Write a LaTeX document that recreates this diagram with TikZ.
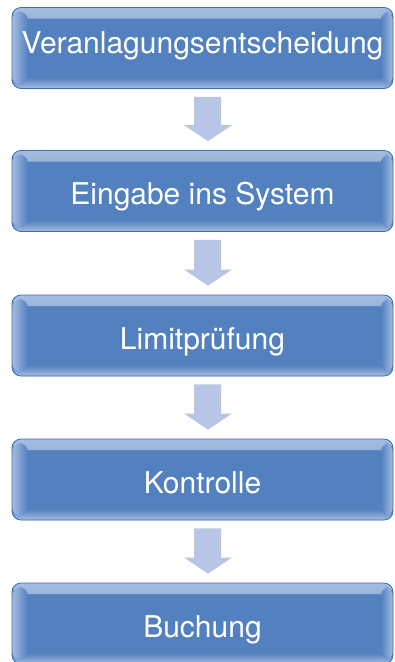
\documentclass[tikz,border=0pt]{standalone}
\usepackage{fontspec}
\setmainfont{TeX Gyre Heros}
\usetikzlibrary{calc}
\definecolor{boxblue}{RGB}{83,129,192}
\definecolor{boxlight}{RGB}{165,188,223}
\definecolor{boxedge}{RGB}{60,110,180}
\definecolor{arrowblue}{RGB}{184,197,230}
\tikzset{
  stepbox/.style={rounded corners=9pt, minimum width=381pt, minimum height=81pt,
    inner sep=0pt, fill=boxblue, draw=boxedge, line width=0.8pt, text=white,
    font=\fontsize{30}{36}\selectfont, text height=27.5pt, text depth=0pt,
    path picture={
      \shade[top color=boxlight, bottom color=boxblue] ([yshift=-11pt]path picture bounding box.north west) rectangle (path picture bounding box.north east);
      \shade[bottom color=boxlight, top color=boxblue] (path picture bounding box.south west) rectangle ([yshift=11pt]path picture bounding box.south east);
      \shade[left color=boxlight, right color=boxblue] ([yshift=4pt]path picture bounding box.south west) rectangle ([xshift=16pt,yshift=-4pt]path picture bounding box.north west);
      \shade[right color=boxlight, left color=boxblue] ([xshift=-12pt,yshift=4pt]path picture bounding box.south east) rectangle ([yshift=-4pt]path picture bounding box.north east);
    }},
  flowarrow/.style={fill=arrowblue, draw=none}
}
\begin{document}
\begin{tikzpicture}[x=1pt,y=1pt]
\useasboundingbox (0,0) rectangle (395,-662);
\node[stepbox, text height=21.5pt, text depth=10pt] (b1) at (202.5,-48) {Veranlagungsentscheidung};
\node[stepbox] (b2) at (202.5,-191) {Eingabe ins System};
\node[stepbox] (b3) at (202.5,-335.5) {Limitprüfung};
\node[stepbox] (b4) at (202.5,-479.5) {Kontrolle};
\node[stepbox] (b5) at (202.5,-623.5) {Buchung};
\foreach \a/\b in {b1/b2,b2/b3,b3/b4,b4/b5}{
  \fill[flowarrow] ($(\a.south)+(-8.5,-8)$) -- ($(\a.south)+(18.5,-8)$)
    -- ($(\b.north)+(18.5,25)$) -- ($(\b.north)+(29.5,25)$)
    -- ($(\b.north)+(5.5,9)$) -- ($(\b.north)+(-18.5,25)$)
    -- ($(\b.north)+(-8.5,25)$) -- cycle;
}
\end{tikzpicture}
\end{document}
